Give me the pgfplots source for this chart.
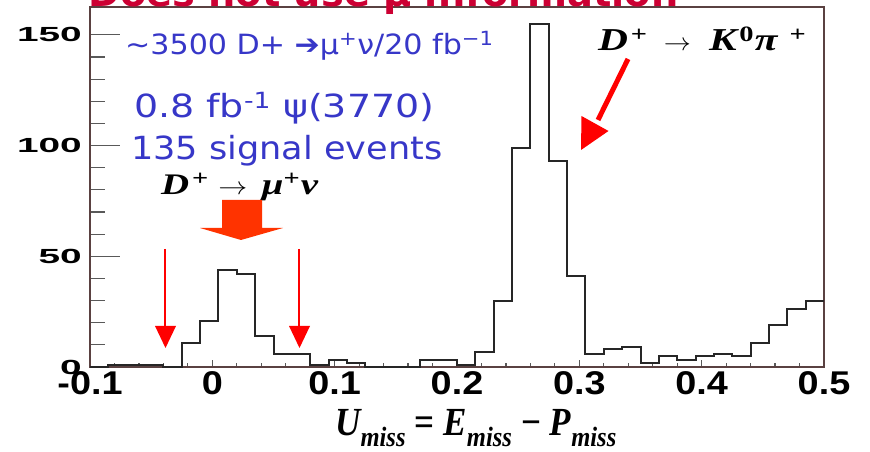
\documentclass[border=0pt]{standalone}
\usepackage{pgfplots}
\pgfplotsset{compat=1.18}
\usepackage{fontspec}
\setmainfont{Liberation Sans}
\newfontfamily\dvs{DejaVu Sans}
\newfontfamily\tms{Liberation Serif}
\definecolor{tblue}{RGB}{55,55,200}
\definecolor{tred}{RGB}{204,0,51}
\definecolor{aro}{RGB}{255,51,0}
\definecolor{framec}{RGB}{90,65,65}
\newcommand\ys[1]{\scalebox{1.9}[1]{#1}}
\newcommand\xs[1]{\scalebox{1.15}[1]{#1}}
\newcommand\supp[1]{\raisebox{9bp}{\fontsize{22}{22}\selectfont #1}}
\begin{document}
\begin{tikzpicture}
\begin{axis}[
 at={(0,0)}, anchor=south west, scale only axis,
 width=734bp, height=360bp,
 xmin=-0.1, xmax=0.5, ymin=0, ymax=162.6,
 xtick={-0.1,0,0.1,0.2,0.3,0.4,0.5},
 xticklabels={\xs{-0.1},\xs{0},\xs{0.1},\xs{0.2},\xs{0.3},\xs{0.4},\xs{0.5}},
 ytick={0,50,100,150},
 yticklabels={\ys{0},\ys{50},\ys{100},\ys{150}},
 minor x tick num=4, minor y tick num=4,
 tick align=inside,
 tick pos=left,
 axis line style={draw=framec, line width=1.2bp},
 tick style={draw=black!65, line width=1.2bp},
 xtick style={/pgfplots/major tick length=7bp, /pgfplots/minor tick length=4bp},
 ytick style={/pgfplots/major tick length=30bp, /pgfplots/minor tick length=15bp},
 xticklabel style={font=\fontsize{33}{33}\selectfont\bfseries, inner sep=0pt, anchor=north, yshift=-4bp},
 yticklabel style={font=\fontsize{20.5}{20.5}\selectfont\bfseries, inner sep=0pt, anchor=east, xshift=-8bp},
]
\addplot[const plot, line width=2bp, draw=black!85] table {
x y
-0.100 0
-0.085 1
-0.070 1
-0.055 1
-0.040 0
-0.025 11
-0.010 21
0.005 44
0.020 42
0.035 14
0.050 6
0.065 6
0.080 1
0.095 3
0.110 2
0.125 0
0.140 0
0.155 0
0.170 3
0.185 3
0.200 1
0.215 7
0.230 30
0.245 99
0.260 155
0.275 93
0.290 41
0.305 6
0.320 8
0.335 9
0.350 2
0.365 5
0.380 3
0.395 5
0.410 6
0.425 5
0.440 11
0.455 19
0.470 26
0.485 30
0.500 30
};
\end{axis}
\begin{scope}[shift={(-90bp,367bp)}, x=1bp, y=-1bp]
\node[anchor=base west, inner sep=0, text=tred, font=\dvs\bfseries\fontsize{38.5}{38.5}\selectfont] at (88,7) {Does not use μ information};
\node[anchor=base west, inner sep=0, text=tblue, font=\dvs\fontsize{28}{28}\selectfont] at (125,55) {\scalebox{1.08}[1]{\textasciitilde3500 D+ ➔μ\textsuperscript{+}ν/20 fb\textsuperscript{−1}}};
\node[anchor=base west, inner sep=0, text=tblue, font=\dvs\fontsize{32}{32}\selectfont] at (134,118) {\scalebox{1.19}[1]{0.8 fb\textsuperscript{-1} ψ(3770)}};
\node[anchor=base west, inner sep=0, text=tblue, font=\dvs\fontsize{32}{32}\selectfont] at (131,160) {\scalebox{1.1}[1]{135 signal events}};
\node[anchor=base west, inner sep=0, font=\tms\bfseries\itshape\fontsize{30}{30}\selectfont] at (161,195) {\scalebox{1.3}[1]{D\hspace{2bp}\supp{+}\hspace{8bp}\scalebox{0.9}[1]{$\rightarrow$}\hspace{11bp}μ\supp{+}\hspace{1bp}ν}};
\node[anchor=base west, inner sep=0, font=\tms\bfseries\itshape\fontsize{32}{32}\selectfont] at (598,51) {\scalebox{1.3}[1]{D\hspace{2bp}\supp{+}\hspace{13bp}\scalebox{0.84}[1]{$\rightarrow$}\hspace{14bp}K\hspace{2bp}\supp{\upshape 0}\hspace{1bp}π\hspace{9bp}\supp{+}}};
\node[anchor=base, inner sep=0, font=\tms\bfseries\itshape\fontsize{40}{40}\selectfont] at (476,436) {\scalebox{0.88}[1]{U\textsubscript{miss} {\upshape =} E\textsubscript{miss} {\upshape −} P\textsubscript{miss}}};
\fill[aro] (222,200) -- (262,200) -- (262,228) -- (283,228) -- (241,240) -- (200,228) -- (222,228) -- cycle;
\draw[red, line width=2bp] (165,249) -- (165,330);
\fill[red] (155,326) -- (176,326) -- (165.5,348) -- cycle;
\draw[red, line width=2bp] (299,249) -- (299,330);
\fill[red] (289,326) -- (310,326) -- (299.5,348) -- cycle;
\draw[red, line width=5bp] (628,59) -- (598,120);
\fill[red] (581,150) -- (581.5,116) -- (608.5,131) -- cycle;
\pgfresetboundingbox
\path[use as bounding box] (0,0) rectangle (870,452);
\end{scope}
\end{tikzpicture}
\end{document}
